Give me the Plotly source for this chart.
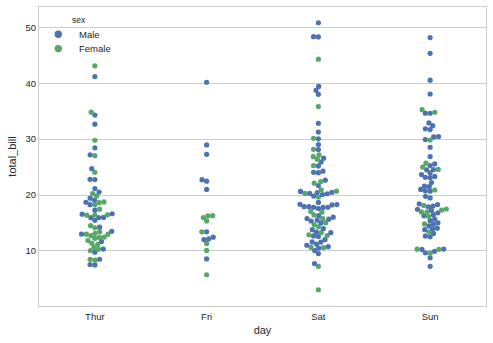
import numpy as np
import plotly.graph_objects as go

# ---- data: total_bill by day, split by sex ----
days = ["Thur", "Fri", "Sat", "Sun"]
sexes = ["Male", "Female"]
colors = {"Male": "#4C72B0", "Female": "#55A868"}

thur_male = [27.20, 22.76, 17.29, 19.44, 16.66, 32.68, 15.98, 13.03, 18.28, 24.71, 21.16,
             11.69, 14.26, 15.95, 8.52, 22.82, 19.08, 16.00, 34.30, 41.19, 9.78, 7.51,
             28.44, 15.48, 16.58, 7.56, 10.34, 13.51, 18.71, 20.53]
thur_female = [10.07, 34.83, 10.65, 12.43, 24.08, 13.42, 12.48, 29.80, 14.52, 11.38, 20.27,
               11.17, 12.26, 18.26, 8.51, 10.33, 14.15, 13.16, 17.47, 27.05, 16.43, 8.35,
               18.64, 11.87, 19.81, 43.11, 13.00, 12.74, 13.00, 16.40, 16.47, 18.78]
fri_male = [28.97, 22.49, 22.75, 40.17, 27.28, 12.03, 21.01, 12.46, 12.16, 8.58, 13.42]
fri_female = [5.75, 16.32, 11.35, 15.38, 13.42, 15.98, 16.27, 10.09]
sat_male = [20.65, 17.92, 39.42, 19.82, 17.81, 13.37, 12.69, 21.70, 9.55, 18.35, 17.78,
            24.06, 16.31, 18.69, 31.27, 16.04, 38.01, 11.24, 48.27, 20.29, 13.81, 11.02,
            18.29, 17.59, 20.08, 20.23, 15.01, 12.02, 10.51, 17.92, 15.36, 20.49, 25.21,
            18.24, 14.00, 50.81, 15.81, 26.59, 38.73, 24.27, 30.06, 25.89, 48.33, 28.15,
            11.59, 7.74, 20.45, 13.28, 24.01, 15.69, 11.61, 10.77, 15.53, 10.07, 12.60,
            32.83, 29.03, 22.67, 17.82]
sat_female = [20.29, 15.77, 19.65, 15.06, 20.69, 16.93, 26.41, 16.45, 3.07, 17.07, 26.86,
              25.28, 14.73, 44.30, 22.42, 20.92, 14.31, 7.25, 10.59, 10.63, 12.76, 13.27,
              28.17, 12.90, 30.14, 22.12, 35.83, 27.18]
sun_male = [10.34, 21.01, 23.68, 25.29, 8.77, 26.88, 15.04, 14.78, 10.27, 15.42, 18.43,
            21.58, 16.29, 17.46, 13.94, 9.68, 30.40, 18.29, 22.23, 32.40, 28.55, 18.04,
            12.54, 9.94, 25.56, 19.49, 38.07, 23.95, 29.93, 14.07, 13.13, 17.26, 24.55,
            19.77, 48.17, 16.49, 21.50, 12.66, 13.81, 24.52, 20.76, 31.71, 7.25, 31.85,
            16.82, 32.90, 17.89, 14.48, 34.63, 34.65, 23.33, 45.35, 23.17, 40.55, 20.69,
            30.46, 23.10, 15.69]
sun_female = [16.99, 24.59, 35.26, 14.83, 10.33, 16.97, 10.29, 34.81, 25.71, 17.31, 29.85,
              25.00, 13.39, 16.21, 17.51, 9.60, 20.90, 18.15]

data = {
    "Thur": {"Male": thur_male, "Female": thur_female},
    "Fri": {"Male": fri_male, "Female": fri_female},
    "Sat": {"Male": sat_male, "Female": sat_female},
    "Sun": {"Male": sun_male, "Female": sun_female},
}
y_ticks = [10, 20, 30, 40, 50]
legend_title = "sex"

# ---- layout geometry (pixels) ----
W, H = 493, 343
ML, MR, MT, MB = 39, 7, 7, 37
PW, PH = W - ML - MR, H - MT - MB
YR = [0.16, 53.63]
XR = [-0.5, 3.5]
px_per_y = PH / (YR[1] - YR[0])
px_per_x = PW / (XR[1] - XR[0])
D = 4.6  # swarm point spacing in px


def beeswarm(ys_px, d):
    """Classic seaborn beeswarm: points sorted by y, placed nearest to midline."""
    order = np.argsort(ys_px, kind="stable")
    ys = np.asarray(ys_px)[order]
    swarm = [(0.0, ys[0])]
    for y_i in ys[1:]:
        neighbors = []
        for xj, yj in reversed(swarm):
            if (y_i - yj) < d:
                neighbors.append((xj, yj))
            else:
                break
        neighbors = neighbors[::-1]
        cands = [(0.0, y_i)]
        left_first = True
        for xj, yj in neighbors:
            dy = y_i - yj
            dx = np.sqrt(max(d * d - dy * dy, 0)) * 1.05
            cl, cr = (xj - dx, y_i), (xj + dx, y_i)
            cands.extend([cl, cr] if left_first else [cr, cl])
            left_first = not left_first
        cands = np.array(cands)
        cands = cands[np.argsort(np.abs(cands[:, 0]), kind="stable")]
        chosen = cands[0]
        if neighbors:
            nb = np.array(neighbors)
            for c in cands:
                if np.all((nb[:, 0] - c[0]) ** 2 + (nb[:, 1] - c[1]) ** 2 >= d * d):
                    chosen = c
                    break
        swarm.append(tuple(chosen))
    offs = np.empty(len(ys))
    offs[order] = [s[0] for s in swarm]
    return offs


fig = go.Figure()
for i, day in enumerate(days):
    vals, cols = [], []
    for s in sexes:
        vals += data[day][s]
        cols += [colors[s]] * len(data[day][s])
    vals = np.array(vals)
    offs_px = beeswarm(vals * px_per_y, D)
    order = np.argsort(vals, kind="stable")
    xs = i + offs_px / px_per_x
    fig.add_trace(go.Scatter(
        x=xs[order], y=vals[order], mode="markers",
        marker=dict(size=5.2, color=[cols[k] for k in order], line=dict(width=0)),
        showlegend=False, hoverinfo="y"))


def px2paper(px, py):
    return (px - ML) / PW, 1 - (py - MT) / PH


# ---- manual legend (matplotlib-style, inside upper-left) ----
annotations = []
shapes = []
tx, ty = px2paper(79, 20.5)
annotations.append(dict(x=tx, y=ty, xref="paper", yref="paper", text=legend_title,
                        showarrow=False, xanchor="center", yanchor="middle",
                        font=dict(size=8.5, color="#262626")))
for k, s in enumerate(sexes):
    cy = 34.3 + 14.3 * k
    mx, my = px2paper(58.3, cy)
    shapes.append(dict(type="circle", xref="paper", yref="paper", xsizemode="pixel",
                       ysizemode="pixel", xanchor=mx, yanchor=my, x0=-3.7, x1=3.7,
                       y0=-3.7, y1=3.7, fillcolor=colors[s], line=dict(width=0)))
    lx, ly = px2paper(77, cy)
    annotations.append(dict(x=lx, y=ly, xref="paper", yref="paper", text=s,
                            showarrow=False, xanchor="left", yanchor="middle",
                            font=dict(size=9.5, color="#262626")))

axis_col = "#cccccc"
fig.update_layout(
    width=W, height=H,
    margin=dict(l=ML, r=MR, t=MT, b=MB),
    paper_bgcolor="white", plot_bgcolor="white",
    showlegend=False,
    font=dict(family="Liberation Sans, Arial, sans-serif", size=9.5, color="#262626"),
    xaxis=dict(range=XR, tickmode="array", tickvals=list(range(len(days))), ticktext=days,
               showgrid=False, zeroline=False, showline=True, linecolor=axis_col, mirror=True,
               ticks="outside", ticklen=2, tickcolor="rgba(0,0,0,0)",
               title=dict(text="day", standoff=4), tickfont=dict(size=9.5)),
    yaxis=dict(range=YR, tickvals=y_ticks, showgrid=True, gridcolor=axis_col, gridwidth=1,
               zeroline=False, showline=True, linecolor=axis_col, mirror=True, ticks="",
               title=dict(text="total_bill", standoff=6), tickfont=dict(size=9.5)),
    annotations=annotations,
    shapes=shapes,
)
fig.write_html("out.html")
